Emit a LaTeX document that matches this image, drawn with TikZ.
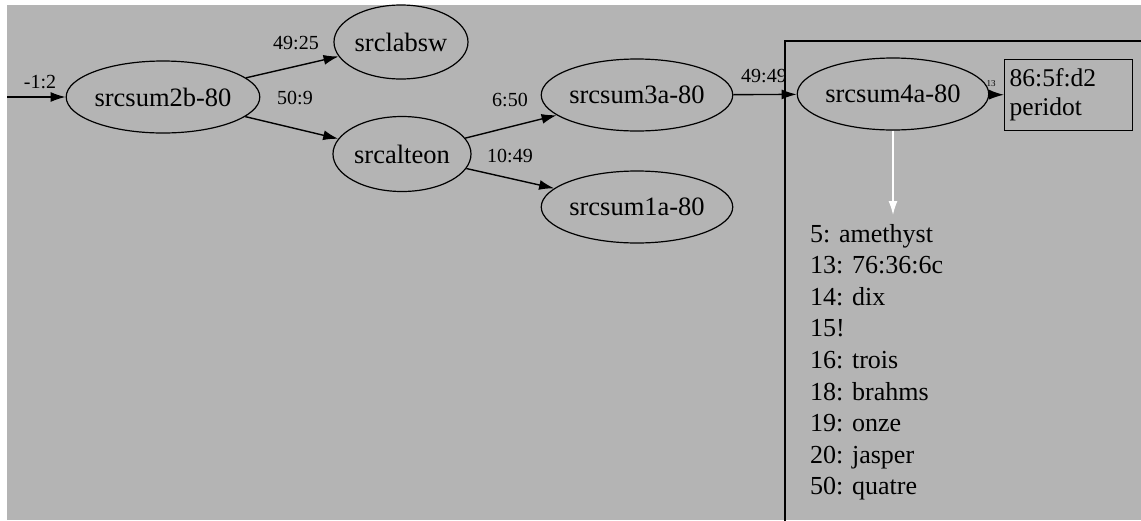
\documentclass[tikz,border=0pt]{standalone}
\usepackage{fontspec}
\setmainfont{Liberation Serif}
\usetikzlibrary{shapes.geometric,arrows.meta}
\definecolor{bgray}{RGB}{180,180,180}
\tikzset{
  nd/.style={ellipse,draw=black,line width=1.2pt,inner sep=0pt,minimum width=180pt,minimum height=72pt,font=\fontsize{26.5}{30}\selectfont},
  edge/.style={draw=black,line width=1.4pt,-{Latex[length=15pt,width=10pt]}},
  elab/.style={font=\fontsize{20}{24}\selectfont,inner sep=0pt},
  listline/.style={anchor=base west,inner sep=0pt,font=\fontsize{26}{30}\selectfont}
}
\begin{document}
\begin{tikzpicture}[x=1pt,y=-1pt]
\useasboundingbox (0,0) rectangle (1141,520);
\fill[white] (0,0) rectangle (1141,520);
\fill[bgray] (7,5) rectangle (1141,520);
\begin{scope}
\clip (0,0) rectangle (1141,520);
\draw[line width=2pt] (785,41) rectangle (1170,560);
\end{scope}
\node[nd] (s2b) at (163,97) {srcsum2b-80};
\node[nd,minimum width=134pt,minimum height=74pt] (lab) at (401,42) {srclabsw};
\node[nd,minimum width=138pt,minimum height=75pt] (alt) at (402,154) {srcalteon};
\node[nd] (s3a) at (637,95) {srcsum3a-80};
\node[nd] (s1a) at (637,207) {srcsum1a-80};
\node[nd] (s4a) at (893,94) {srcsum4a-80};
\node[draw=black,line width=1.4pt,rectangle,minimum width=128pt,minimum height=71pt,inner sep=5pt,align=left,anchor=north west,font=\fontsize{25.5}{29}\selectfont,text width=118pt] (per) at (1004,59) {86:5f:d2\\peridot};
\coordinate (in) at (7,97);
\draw[edge] (in) -- (s2b);
\node[elab] (l0) at (40,82) {-1:2};
\draw[edge] (s2b) -- (lab);
\node[elab] (l1) at (296,43) {49:25};
\draw[edge] (s2b) -- (alt);
\node[elab] (l2) at (295,98) {50:9};
\draw[edge] (alt) -- (s3a);
\node[elab] (l3) at (510,100) {6:50};
\draw[edge] (alt) -- (s1a);
\node[elab] (l4) at (510,156) {10:49};
\draw[edge] (s3a) -- (s4a);
\node[elab] (l5) at (764,76) {49:49};
\draw[edge] (s4a) -- (per);
\node[elab,font=\fontsize{9}{10}\selectfont] (l6) at (991,84) {13};
\coordinate (wend) at (893,215);
\draw[line width=1.4pt,draw=white,-{Latex[length=14pt,width=9pt,fill=white]}] (s4a) -- (wend);
\node[listline] (t1) at (810,242) {5: amethyst};
\node[listline] (t2) at (810,273.6) {13: 76:36:6c};
\node[listline] (t3) at (810,305.2) {14: dix};
\node[listline] (t4) at (810,336.8) {15!};
\node[listline] (t5) at (810,368.4) {16: trois};
\node[listline] (t6) at (810,400) {18: brahms};
\node[listline] (t7) at (810,431.6) {19: onze};
\node[listline] (t8) at (810,463.2) {20: jasper};
\node[listline] (t9) at (810,494.8) {50: quatre};
\end{tikzpicture}
\end{document}
